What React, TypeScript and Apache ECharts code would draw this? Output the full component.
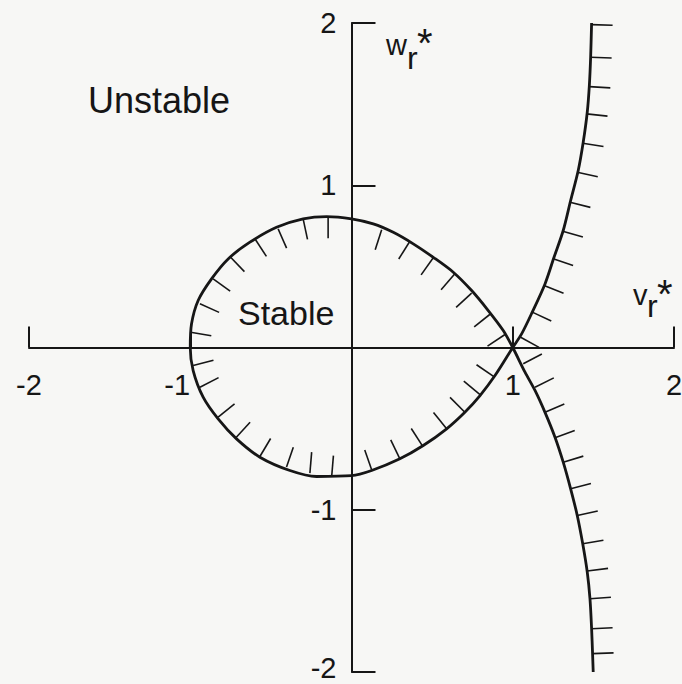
import React, { useEffect, useRef } from "react";
import * as echarts from "echarts";

// Boundary curve in the (v_r*, w_r*) plane, traced in three pieces that meet at the double point (1, 0).
// Right-hand branch above the axis: from the top edge down to the double point.
const upperBranch: [number, number][] = [
  [1.489, 2.0], [1.483, 1.789], [1.475, 1.614], [1.462, 1.45], [1.437, 1.265],
  [1.406, 1.091], [1.359, 0.906], [1.313, 0.721], [1.256, 0.556], [1.2, 0.392],
  [1.121, 0.218], [1.055, 0.084], [1.0, 0.0],
];

// Closed loop: from the double point along the lower half, round (-1, 0), back along the upper half.
const loop: [number, number][] = [
  [1.0, 0.0], [0.89, -0.173], [0.797, -0.296], [0.703, -0.399], [0.59, -0.501],
  [0.445, -0.604], [0.3, -0.686], [0.125, -0.758], [0.0, -0.79], [-0.217, -0.795],
  [-0.382, -0.758], [-0.568, -0.676], [-0.713, -0.563], [-0.827, -0.44], [-0.92, -0.306],
  [-0.982, -0.142], [-1.0, 0.0], [-0.992, 0.146], [-0.951, 0.29], [-0.868, 0.423],
  [-0.765, 0.546], [-0.63, 0.649], [-0.465, 0.741], [-0.3, 0.793], [-0.154, 0.807],
  [0.0, 0.793], [0.135, 0.762], [0.259, 0.71], [0.383, 0.639], [0.507, 0.556],
  [0.631, 0.464], [0.745, 0.351], [0.848, 0.228], [0.941, 0.105], [1.0, 0.0],
];

// Right-hand branch below the axis: from the double point down to the bottom edge.
const lowerBranch: [number, number][] = [
  [1.0, 0.0], [1.076, -0.152], [1.138, -0.265], [1.2, -0.4], [1.262, -0.553],
  [1.313, -0.707], [1.359, -0.871], [1.4, -1.035], [1.434, -1.21], [1.462, -1.384],
  [1.479, -1.549], [1.489, -1.733], [1.495, -1.887], [1.499, -2.0],
];

// Hatch feet on each piece (the hatches mark the stable side of the boundary).
const loopHatches: [number, number][] = [
  [-0.145, 0.803], [-0.3, 0.793], [-0.455, 0.731], [-0.599, 0.67], [-0.754, 0.561],
  [-0.858, 0.423], [-0.94, 0.269], [-0.998, 0.094], [-0.982, -0.111], [-0.94, -0.245],
  [-0.827, -0.429], [-0.717, -0.556], [-0.568, -0.672], [-0.403, -0.737], [-0.258, -0.774],
  [-0.123, -0.795], [0.125, -0.754], [0.3, -0.686], [0.441, -0.608], [0.59, -0.501],
  [0.703, -0.399], [0.797, -0.29], [0.883, -0.179], [0.187, 0.725], [0.362, 0.655],
  [0.507, 0.553], [0.641, 0.454], [0.745, 0.335], [0.863, 0.208], [0.952, 0.08],
];
const upperHatches: [number, number][] = [
  [1.489, 1.99], [1.483, 1.789], [1.475, 1.608], [1.458, 1.44], [1.434, 1.259],
  [1.4, 1.08], [1.355, 0.895], [1.31, 0.717], [1.251, 0.547], [1.194, 0.382],
  [1.121, 0.218], [1.049, 0.063],
];
const lowerHatches: [number, number][] = [
  [1.065, -0.1], [1.138, -0.245], [1.2, -0.399], [1.262, -0.556], [1.313, -0.707],
  [1.359, -0.871], [1.4, -1.035], [1.434, -1.21], [1.462, -1.378], [1.479, -1.549],
  [1.489, -1.733], [1.495, -1.887],
];

const PIECES = [loop, upperBranch, lowerBranch];
const LOOP_INSIDE: [number, number] = [-0.1, 0];

const INK = "#161616";
const FONT = "'Liberation Sans', Arial, Helvetica, sans-serif";
const HATCH_LEN = 21;

// Plot frame
const GRID = { left: 29, right: 8, top: 23, bottom: 12 };
const W = 682;
const H = 684;

function joinPieces(): [number, number][] {
  const out: [number, number][] = [];
  const add = (pts: [number, number][]) => {
    pts.forEach((p) => {
      const last = out[out.length - 1];
      if (!last || last[0] !== p[0] || last[1] !== p[1]) out.push(p);
    });
  };
  add(upperBranch);
  add(loop);
  add(lowerBranch);
  return out;
}

function label(text: string, x: number, y: number, fontSize: number) {
  return {
    type: "text",
    x,
    y,
    style: { text, fontSize, fontFamily: FONT, fill: INK, align: "left", verticalAlign: "middle" },
  };
}

// Variable name with subscript r and superscript star.
function symbol(main: string, mx: number, my: number, rx: number, ry: number, sx: number, sy: number) {
  return [label(main, mx, my, 29), label("r", rx, ry, 32), label("*", sx, sy, 40)];
}

export default function App() {
  const ref = useRef<HTMLDivElement>(null);

  useEffect(() => {
    if (!ref.current) return;
    const chart = echarts.init(ref.current, undefined, { renderer: "svg" });

    const hatchData = [
      ...loopHatches.map((p) => [p[0], p[1], 0]),
      ...upperHatches.map((p) => [p[0], p[1], 1]),
      ...lowerHatches.map((p) => [p[0], p[1], 2]),
    ];

    const renderHatch = (params: any, api: any) => {
      const v = api.value(0);
      const w = api.value(1);
      const piece = api.value(2);
      const foot = api.coord([v, w]);
      const pts = PIECES[piece].map((q) => api.coord(q));
      let best = 0;
      let bestD = Infinity;
      pts.forEach((q: number[], i: number) => {
        const d = (q[0] - foot[0]) ** 2 + (q[1] - foot[1]) ** 2;
        if (d < bestD) {
          bestD = d;
          best = i;
        }
      });
      const a = pts[Math.max(0, best - 1)];
      const b = pts[Math.min(pts.length - 1, best + 1)];
      let tx = b[0] - a[0];
      let ty = b[1] - a[1];
      const tl = Math.hypot(tx, ty) || 1;
      tx /= tl;
      ty /= tl;
      let nx = -ty;
      let ny = tx;
      if (piece === 0) {
        const c = api.coord(LOOP_INSIDE);
        if (nx * (c[0] - foot[0]) + ny * (c[1] - foot[1]) < 0) {
          nx = -nx;
          ny = -ny;
        }
      } else if (nx < 0) {
        nx = -nx;
        ny = -ny;
      }
      return {
        type: "line",
        shape: {
          x1: foot[0],
          y1: foot[1],
          x2: foot[0] + nx * HATCH_LEN,
          y2: foot[1] + ny * HATCH_LEN,
        },
        style: { stroke: INK, lineWidth: 1.6 },
      };
    };

    const xLabelText = (val: number) => {
      if (val === 0) return "";
      if (val === -1) return "{shift|-1}";
      return String(val);
    };
    const yLabelText = (val: number) => {
      if (val === 0) return "";
      if (val === -2) return "{low|-2}";
      return String(val);
    };

    // Axes cross at the origin: push each axis line from the frame edge to the middle.
    const plotW = W - GRID.left - GRID.right;
    const plotH = H - GRID.top - GRID.bottom;

    chart.setOption({
      animation: false,
      backgroundColor: "#f7f7f5",
      grid: { ...GRID, containLabel: false, outerBoundsMode: "none" },
      xAxis: {
        type: "value",
        min: -2,
        max: 2,
        interval: 1,
        position: "bottom",
        offset: -plotH / 2,
        axisLine: { onZero: false, lineStyle: { color: INK, width: 2 } },
        axisTick: { inside: true, length: 21, lineStyle: { color: INK, width: 2 } },
        splitLine: { show: false },
        axisLabel: {
          margin: 23,
          fontSize: 29,
          fontFamily: FONT,
          color: INK,
          formatter: xLabelText,
          rich: {
            shift: { fontSize: 29, fontFamily: FONT, color: INK, padding: [0, 26, 0, 0] },
          },
        },
      },
      yAxis: {
        type: "value",
        min: -2,
        max: 2,
        interval: 1,
        position: "left",
        offset: -plotW / 2,
        axisLine: { onZero: false, lineStyle: { color: INK, width: 2 } },
        axisTick: { inside: true, length: 24, lineStyle: { color: INK, width: 2 } },
        splitLine: { show: false },
        axisLabel: {
          margin: 15,
          fontSize: 29,
          fontFamily: FONT,
          color: INK,
          formatter: yLabelText,
          rich: {
            low: { fontSize: 29, fontFamily: FONT, color: INK, padding: [0, 0, 9, 0] },
          },
        },
      },
      series: [
        {
          type: "line",
          data: joinPieces(),
          showSymbol: false,
          smooth: 0.3,
          clip: false,
          lineStyle: { color: INK, width: 2.8 },
          silent: true,
          z: 3,
        },
        {
          type: "custom",
          coordinateSystem: "cartesian2d",
          data: hatchData,
          encode: { x: 0, y: 1 },
          renderItem: renderHatch,
          clip: false,
          silent: true,
          z: 2,
        },
      ],
      graphic: [
        label("Unstable", 88, 100, 36),
        label("Stable", 238, 313, 34),
        ...symbol("w", 386, 45, 407, 58, 417, 43),
        ...symbol("v", 633, 295, 647, 306, 657, 294),
      ],
    });

    return () => chart.dispose();
  }, []);

  return (
    <div
      ref={ref}
      style={{ position: "fixed", left: 0, top: 0, width: W, height: H }}
    />
  );
}
